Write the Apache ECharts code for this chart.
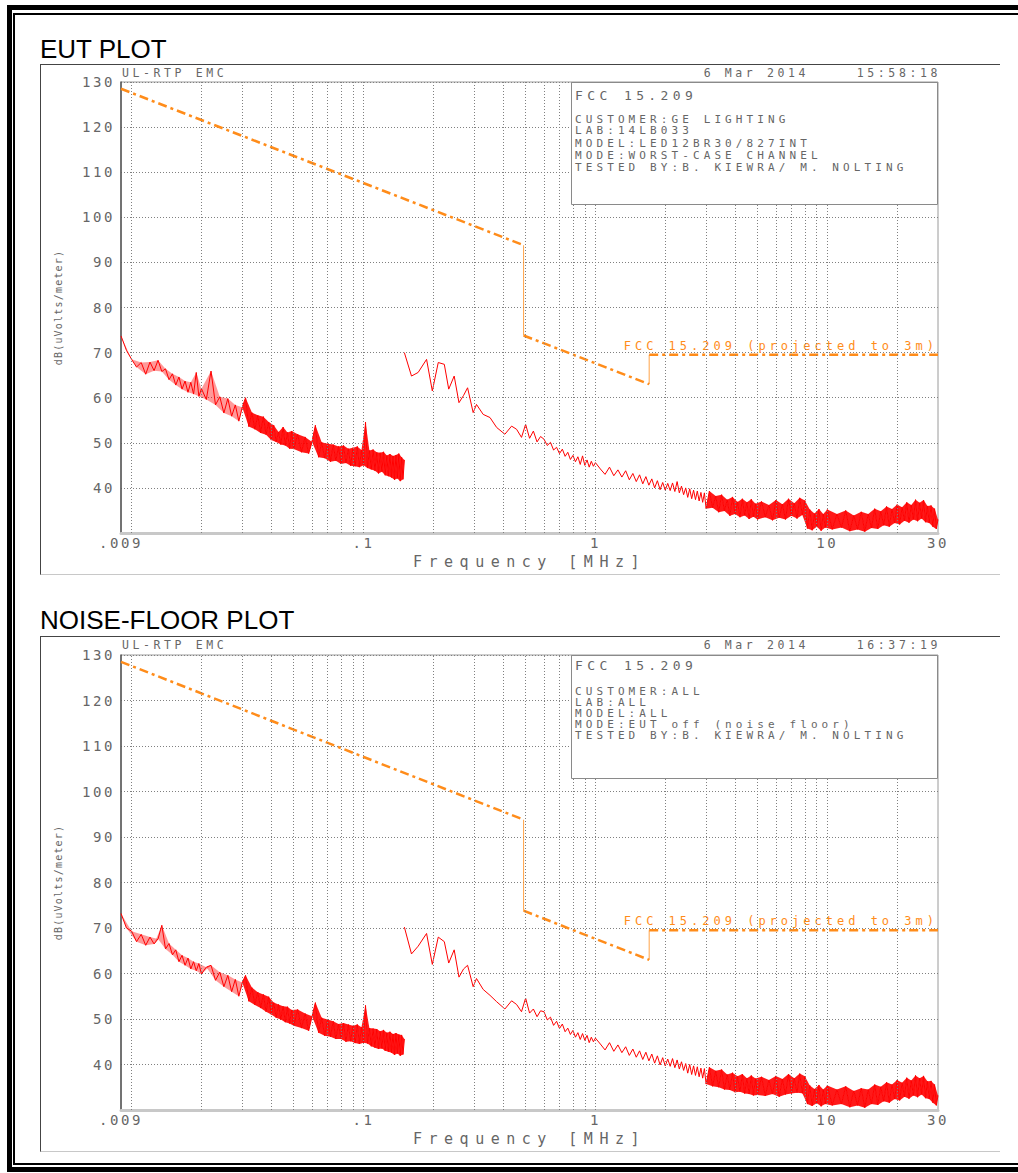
<!DOCTYPE html>
<html>
<head>
<meta charset="utf-8">
<title>FCC 15.209 radiated emissions</title>
<script src="https://cdn.jsdelivr.net/npm/echarts@6.0.0/dist/echarts.min.js"></script>
<style>
  body { margin: 0; background: #fff; }
  .page { position: relative; width: 1018px; height: 1173px; overflow: hidden; font-family: 'Liberation Sans', Arial, sans-serif; }
  .edge-outer { position: absolute; left: 7px; top: 5px; width: 1040px; height: 1167px; border: 5px solid #000; box-sizing: border-box; }
  .edge-inner { position: absolute; left: 13px; top: 13px; width: 1040px; height: 1152px; border: 2px solid #000; box-sizing: border-box; }
  .plot-title { position: absolute; left: 40px; font-size: 26px; line-height: 26px; color: #000; }
  .plot-box { position: absolute; left: 40px; width: 960px; border-top: 1.5px solid #444; border-left: 1px solid #444; border-bottom: 1px solid #c8c8c8; box-sizing: border-box; }
  .plot { position: absolute; left: 40px; width: 960px; }
  /* plotter-style lettering: wide spacing, keyed on text size */
  .plot text[style*="14px"] { letter-spacing: 2.6px; }
  .plot text[style*="13px"] { letter-spacing: 4.4px; }
  .plot text[style*="12px"] { letter-spacing: 4px; }
  .plot text[style*="11.5px"] { letter-spacing: 3.6px; }
  .plot text[style*="11px"] { letter-spacing: 4.1px; }
  .plot text[style*="15px"] { letter-spacing: 6.5px; }
  .plot text[style*="10px"] { letter-spacing: 1.2px; }
</style>
</head>
<body>
<div class="page">
  <div class="edge-outer"></div>
  <div class="edge-inner"></div>
  <div class="plot-title" style="top:36px">EUT PLOT</div>
  <div class="plot-box" style="top:64px;height:511px"></div>
  <div id="eut" class="plot" style="top:64px;height:511px"></div>
  <div class="plot-title" style="top:607px">NOISE-FLOOR PLOT</div>
  <div class="plot-box" style="top:636px;height:516px"></div>
  <div id="nf" class="plot" style="top:636px;height:516px"></div>
</div>

<script>
// ---- sweep frequencies (MHz), shared by both scans ----
const freqLow = [
  0.009, 0.0095, 0.010, 0.0105, 0.011, 0.0115, 0.012, 0.0125, 0.013, 0.0135,
  0.014, 0.0145, 0.015, 0.0155, 0.016, 0.0165, 0.017, 0.0175, 0.018, 0.0185,
  0.019, 0.0195, 0.020, 0.021, 0.022, 0.023, 0.024, 0.025, 0.026, 0.027,
  0.028, 0.029, 0.030, 0.031, 0.032, 0.033, 0.034, 0.035, 0.036, 0.037,
  0.038, 0.039, 0.040, 0.041, 0.042, 0.043, 0.044, 0.045, 0.046, 0.047,
  0.048, 0.049, 0.050, 0.052, 0.054, 0.056, 0.058, 0.060, 0.062, 0.064,
  0.066, 0.068, 0.070, 0.072, 0.074, 0.076, 0.078, 0.080, 0.082, 0.084,
  0.086, 0.088, 0.090, 0.092, 0.094, 0.096, 0.098, 0.100, 0.102, 0.104,
  0.106, 0.108, 0.110, 0.112, 0.114, 0.116, 0.118, 0.120, 0.122, 0.124,
  0.126, 0.128, 0.130, 0.132, 0.134, 0.136, 0.138, 0.140, 0.142, 0.144,
  0.146, 0.148, 0.150
]
const freqHigh = [
  0.150, 0.161, 0.172, 0.187, 0.198, 0.210, 0.223, 0.233, 0.246, 0.258,
  0.270, 0.281, 0.297, 0.307, 0.328, 0.351, 0.375, 0.407, 0.435, 0.457, 0.480,
  0.50, 0.52, 0.54, 0.56, 0.58, 0.60, 0.62, 0.64, 0.66, 0.68, 0.70, 0.72, 0.74,
  0.76, 0.78, 0.80, 0.82, 0.84, 0.86, 0.88, 0.90, 0.92, 0.94, 0.96, 0.98, 1.00,
  1.05, 1.10, 1.15, 1.20, 1.25, 1.30, 1.35, 1.40, 1.45, 1.50, 1.55, 1.60, 1.65,
  1.70, 1.75, 1.80, 1.85, 1.90, 1.95, 2.00, 2.05, 2.10, 2.15, 2.20, 2.25, 2.30,
  2.35, 2.40, 2.45, 2.50, 2.55, 2.60, 2.65, 2.70, 2.75, 2.80, 2.85, 2.90, 2.95,
  3.0, 3.1, 3.2, 3.3, 3.4, 3.5, 3.6, 3.7, 3.8, 3.9,
  4.0, 4.1, 4.2, 4.3, 4.4, 4.5, 4.6, 4.7, 4.8, 4.9,
  5.0, 5.2, 5.4, 5.6, 5.8, 6.0, 6.2, 6.4, 6.6, 6.8, 7.0, 7.2, 7.4,
  7.6, 7.8, 8.0, 8.2, 8.4, 8.6, 8.8, 9.0, 9.2, 9.4, 9.6, 9.8,
  10.0, 10.5, 11.0, 11.5, 12.0, 12.5, 13.0, 13.5, 14.0, 14.5,
  15.0, 15.5, 16.0, 16.5, 17.0, 17.5, 18.0, 18.5, 19.0, 19.5,
  20.0, 20.5, 21.0, 21.5, 22.0, 22.5, 23.0, 23.5, 24.0, 24.5,
  25.0, 25.5, 26.0, 26.5, 27.0, 27.5, 28.0, 28.5, 29.0, 29.5, 30.0
]

// ---- EUT scan, dBuV/m ----
const eutLow = [
  73.7, 70.5, 68.5, 66.8, 67.8, 65.2, 67.9, 66.0, 68.3, 65.8,
  66.4, 64.0, 65.3, 62.8, 64.6, 61.9, 63.7, 61.2, 63.4, 60.8,
  65.6, 60.3, 62.0, 59.6, 65.9, 58.4, 60.2, 56.6, 59.8, 55.9,
  58.4, 54.8, 57.9, 60.0, 53.6, 56.7, 53.0, 56.1, 52.2, 55.8,
  51.8, 54.6, 50.6, 53.9, 50.2, 52.4, 49.6, 53.5, 49.4, 52.3,
  48.7, 52.6, 48.6, 51.9, 47.9, 51.3, 47.6, 50.2, 53.9, 46.8,
  50.1, 46.6, 49.8, 45.8, 49.6, 46.0, 49.2, 45.3, 49.4, 45.5,
  48.7, 44.9, 48.9, 44.8, 49.2, 44.6, 48.4, 45.0, 54.6, 44.4,
  48.3, 44.1, 48.5, 43.8, 47.9, 43.2, 47.8, 43.6, 48.0, 42.8,
  47.2, 42.6, 47.5, 42.3, 47.1, 41.8, 47.3, 42.1, 47.6, 41.5,
  46.8, 41.9, 46.2
]
const eutHigh = [
  70.0, 64.8, 65.6, 68.5, 61.5, 67.8, 67.4, 61.9, 64.8, 58.9,
  60.5, 62.2, 56.7, 58.5, 56.3, 55.6, 53.4, 51.9, 53.7, 53.0, 51.2,
  54.1, 51.0, 52.6, 50.2, 51.4, 50.8, 49.4, 50.1, 48.4, 49.0, 47.6, 48.6, 47.0,
  47.9, 46.3, 47.2, 45.8, 46.9, 45.2, 47.1, 45.0, 46.2, 44.6, 45.9, 44.8, 45.6,
  44.2, 43.0, 44.6, 42.7, 44.0, 42.4, 43.8, 41.8, 43.2, 41.4, 42.9, 40.9, 42.5,
  40.6, 42.0, 40.0, 41.6, 39.6, 41.2, 39.5, 41.0, 39.4, 41.1, 39.2, 41.4, 38.9,
  40.4, 38.5, 40.0, 37.9, 39.8, 37.6, 39.5, 37.4, 39.3, 37.1, 39.0, 36.8, 38.9,
  35.4, 39.3, 35.6, 38.2, 34.6, 38.5, 34.9, 37.4, 33.8, 38.0,
  34.2, 36.9, 33.5, 37.6, 33.9, 36.8, 33.1, 37.5, 33.6, 36.5,
  33.0, 37.0, 33.5, 36.2, 32.8, 37.3, 33.4, 36.4, 33.0, 37.6, 33.8, 36.6, 33.2,
  37.8, 34.0, 37.2, 31.0, 35.2, 30.6, 34.3, 31.4, 35.3, 30.5, 34.2, 31.2,
  35.2, 30.8, 34.2, 31.2, 35.0, 30.4, 33.9, 30.8, 34.7, 30.3,
  34.2, 31.1, 35.4, 30.9, 34.8, 31.7, 35.9, 31.4, 35.3, 32.2,
  36.3, 31.9, 35.7, 32.7, 36.8, 32.3, 36.2, 33.0, 37.4, 32.6,
  36.7, 33.2, 37.3, 32.4, 36.0, 32.2, 36.1, 31.4, 35.4, 30.9, 33.0
]

// ---- noise-floor scan (EUT off), dBuV/m ----
const nfLow = [
  73.2, 70.0, 69.3, 67.0, 68.6, 66.2, 68.0, 66.5, 67.6, 70.6,
  65.4, 66.6, 64.1, 65.2, 62.6, 64.0, 61.8, 63.4, 61.0, 62.6,
  60.6, 62.2, 59.9, 61.4, 61.8, 58.5, 60.3, 57.1, 59.6, 56.0,
  58.7, 55.0, 58.0, 59.6, 53.9, 56.9, 53.1, 55.9, 52.4, 55.4,
  51.6, 54.9, 51.0, 53.6, 50.3, 53.2, 49.9, 52.8, 49.3, 52.7,
  49.0, 52.0, 48.5, 52.1, 48.0, 51.2, 47.4, 50.6, 53.6, 47.0,
  50.3, 46.3, 49.9, 46.1, 49.5, 45.6, 48.9, 45.6, 49.1, 45.0,
  48.8, 45.1, 48.5, 44.7, 48.8, 44.5, 48.2, 44.8, 53.0, 44.6,
  48.0, 44.0, 47.9, 43.7, 47.8, 43.4, 47.3, 43.5, 47.6, 43.0,
  47.0, 42.8, 47.2, 42.6, 46.7, 42.1, 46.9, 42.4, 46.6, 41.9,
  46.5, 42.2, 45.6
]
const nfHigh = [
  70.2, 64.3, 66.0, 68.8, 62.0, 68.0, 67.0, 62.3, 65.2, 59.2,
  61.0, 61.8, 57.1, 58.9, 56.5, 55.2, 53.8, 52.2, 54.0, 53.2, 51.6,
  54.6, 51.3, 52.2, 50.5, 51.8, 51.6, 49.8, 50.4, 48.6, 49.5, 47.9, 48.9, 47.2,
  48.0, 46.6, 47.5, 46.0, 47.0, 45.5, 46.8, 45.3, 46.4, 44.8, 46.0, 45.0, 45.8,
  44.5, 43.2, 44.8, 42.9, 44.3, 42.6, 43.9, 42.0, 43.4, 41.6, 43.0, 41.1, 42.7,
  40.8, 42.3, 40.3, 41.9, 39.9, 41.5, 39.7, 41.2, 39.6, 41.3, 39.3, 41.0, 39.0,
  40.6, 38.7, 40.2, 38.1, 40.0, 37.8, 39.7, 37.6, 39.5, 37.3, 39.2, 37.0, 39.1,
  35.7, 39.4, 35.2, 38.6, 35.0, 38.9, 34.5, 37.8, 34.4, 38.2,
  33.9, 37.4, 34.0, 37.9, 33.6, 37.0, 33.5, 37.6, 33.2, 36.9,
  33.3, 37.3, 33.1, 36.6, 33.5, 37.5, 32.9, 36.8, 33.4, 37.9, 33.6, 37.0, 33.8,
  38.0, 33.7, 37.4, 31.3, 35.4, 30.9, 34.6, 31.5, 35.5, 30.8, 34.5, 31.3,
  35.4, 31.0, 34.5, 31.3, 35.2, 30.6, 34.2, 31.0, 34.8, 30.5,
  34.5, 31.3, 35.6, 31.1, 35.1, 31.9, 36.1, 31.6, 35.6, 32.4,
  36.6, 32.1, 36.0, 32.9, 37.1, 32.5, 36.5, 33.2, 37.6, 32.8,
  37.0, 33.4, 37.5, 32.6, 36.3, 32.4, 36.4, 31.6, 35.6, 31.0, 33.2
]

// ---- FCC 15.209 limit projected to 3 m ----
const limitFreq = [0.009, 0.49, 0.49, 1.705, 1.705, 30]
const limitLevel = [128.5, 93.8, 73.8, 63.0, 69.5, 69.5]

// ---- axis ticks ----
const freqTicks = [0.009, 0.01, 0.1, 1, 10, 30]
const gridFreq = [
  0.01, 0.02, 0.03, 0.04, 0.05, 0.06, 0.07, 0.08, 0.09,
  0.1, 0.2, 0.3, 0.4, 0.5, 0.6, 0.7, 0.8, 0.9,
  1, 2, 3, 4, 5, 6, 7, 8, 9, 10, 20
]
const levelTicks = [40, 50, 60, 70, 80, 90, 100, 110, 120, 130]

const MONO = '"DejaVu Sans Mono", "Liberation Mono", monospace'
const INK = '#666'
const ORANGE = '#ff8c1a'
const RED = '#ff0000'

const pairs = (fs, vs) => fs.map((f, i) => [f, vs[i]])
const between = (data, lo, hi) => data.filter(d => d[0] >= lo && d[0] <= hi)

function freqLabel(v) {
  const s = String(+(+v).toPrecision(2))
  return s.startsWith('0.') ? s.slice(1) : s
}

function txt(x, y, text, size, align) {
  return {
    type: 'text', x, y, z: 20, silent: true,
    style: { text, font: `${size}px ${MONO}`, fill: INK, align: align || 'left', verticalAlign: 'middle' }
  }
}

// fill the gaps of a zig-zag sweep: one triangle per three consecutive points
function band(data, opacity) {
  return {
    type: 'custom', z: 3, silent: true, clip: true,
    encode: { x: 0, y: 1 },
    data,
    renderItem(params, api) {
      const i = params.dataIndex
      if (i + 2 >= data.length) return
      return {
        type: 'polygon',
        shape: { points: [api.coord(data[i]), api.coord(data[i + 1]), api.coord(data[i + 2])] },
        style: { fill: RED, opacity }
      }
    }
  }
}

function render(el, p) {
  const chart = echarts.init(el, null, { renderer: 'svg' })

  const limit = []
  for (let i = 0; i < limitFreq.length - 1; i++) {
    const vertical = limitFreq[i] === limitFreq[i + 1]
    const seg = [[limitFreq[i], limitLevel[i]], [limitFreq[i + 1], limitLevel[i + 1]]]
    if (i === limitFreq.length - 2) {
      seg[1] = {
        value: seg[1],
        label: {
          show: true, position: 'top', align: 'right', distance: 3,
          formatter: 'FCC 15.209 (projected to 3m)',
          color: ORANGE, fontFamily: MONO, fontSize: 12
        }
      }
    }
    limit.push({
      type: 'line', data: seg, z: 4, silent: true,
      symbol: 'circle', symbolSize: 0, showSymbol: true,
      lineStyle: vertical
        ? { color: ORANGE, width: 1, opacity: 0.8 }
        : { color: ORANGE, width: 2.5, type: [9, 4, 3, 4] }
    })
  }

  const trace = (data) => ({
    type: 'line', data, z: 3, silent: true, showSymbol: false,
    lineStyle: { color: RED, width: 1 }
  })
  const low = pairs(freqLow, p.low)
  const high = pairs(freqHigh, p.high)

  chart.setOption({
    animation: false,
    backgroundColor: 'transparent',
    grid: { left: 81, right: 62, top: p.top, height: p.height, show: true, borderColor: '#9a9a9a', borderWidth: 1, outerBoundsMode: 'none' },
    xAxis: {
      type: 'log', logBase: 10, min: 0.009, max: 30,
      axisLine: { show: true, lineStyle: { color: '#c8c8c8', width: 3 } },
      axisTick: { show: false },
      splitLine: { show: false },
      axisLabel: {
        color: INK, fontFamily: MONO, fontSize: 14, margin: 3,
        customValues: freqTicks, showMinLabel: true, showMaxLabel: true, hideOverlap: false,
        formatter: freqLabel
      },
      name: 'Frequency [MHz]', nameLocation: 'middle', nameGap: 19,
      nameTextStyle: { color: INK, fontFamily: MONO, fontSize: 15 }
    },
    yAxis: {
      type: 'value', min: 30, max: 130, interval: 10,
      axisLine: { show: true, lineStyle: { color: '#555', width: 1.5 } },
      axisTick: { show: false },
      splitLine: { lineStyle: { color: '#808080', type: [1, 2], width: 1 } },
      axisLabel: {
        color: INK, fontFamily: MONO, fontSize: 14, margin: 6,
        formatter: v => levelTicks.includes(v) ? String(v) : ''
      },
      name: 'dB(uVolts/meter)', nameLocation: 'middle', nameGap: 58,
      nameTextStyle: { color: INK, fontFamily: MONO, fontSize: 10 }
    },
    series: [
      {
        type: 'line', data: [], z: 1, silent: true,
        markLine: {
          symbol: 'none', silent: true, label: { show: false },
          lineStyle: { color: '#808080', type: [1, 2], width: 1 },
          data: gridFreq.map(f => ({ xAxis: f }))
        }
      },
      trace(low),
      trace(high),
      band(between(low, 0.009, 0.031), 0.4),
      band(between(low, 0.03, 0.15), 0.9),
      band(between(high, 3.0, 30), 0.9),
      ...limit
    ],
    graphic: [
      txt(82, 9, 'UL-RTP EMC', 11.5),
      txt(769, 9, '6 Mar 2014', 11.5, 'right'),
      txt(901, 9, p.time, 11.5, 'right'),
      {
        type: 'rect', z: 10, silent: true,
        shape: { x: 531.5, y: p.top + 0.5, width: 366, height: p.boxH },
        style: { fill: '#fff', stroke: '#8a8a8a', lineWidth: 1 }
      },
      txt(535, p.lineY[0], 'FCC 15.209', 13),
      ...p.info.map((s, i) => txt(535, p.lineY[i + 1], s, 11))
    ]
  })
  return chart
}

render(document.getElementById('eut'), {
  top: 18, height: 451, boxH: 122, low: eutLow, high: eutHigh, time: '15:58:18',
  lineY: [31, 55, 66, 79, 91, 103],
  info: ['CUSTOMER:GE LIGHTING', 'LAB:14LB033', 'MODEL:LED12BR30/827INT', 'MODE:WORST-CASE CHANNEL', 'TESTED BY:B. KIEWRA/ M. NOLTING']
})
render(document.getElementById('nf'), {
  top: 19, height: 455, boxH: 123, low: nfLow, high: nfHigh, time: '16:37:19',
  lineY: [29, 55, 66, 77, 88, 99],
  info: ['CUSTOMER:ALL', 'LAB:ALL', 'MODEL:ALL', 'MODE:EUT off (noise floor)', 'TESTED BY:B. KIEWRA/ M. NOLTING']
})
</script>
</body>
</html>
